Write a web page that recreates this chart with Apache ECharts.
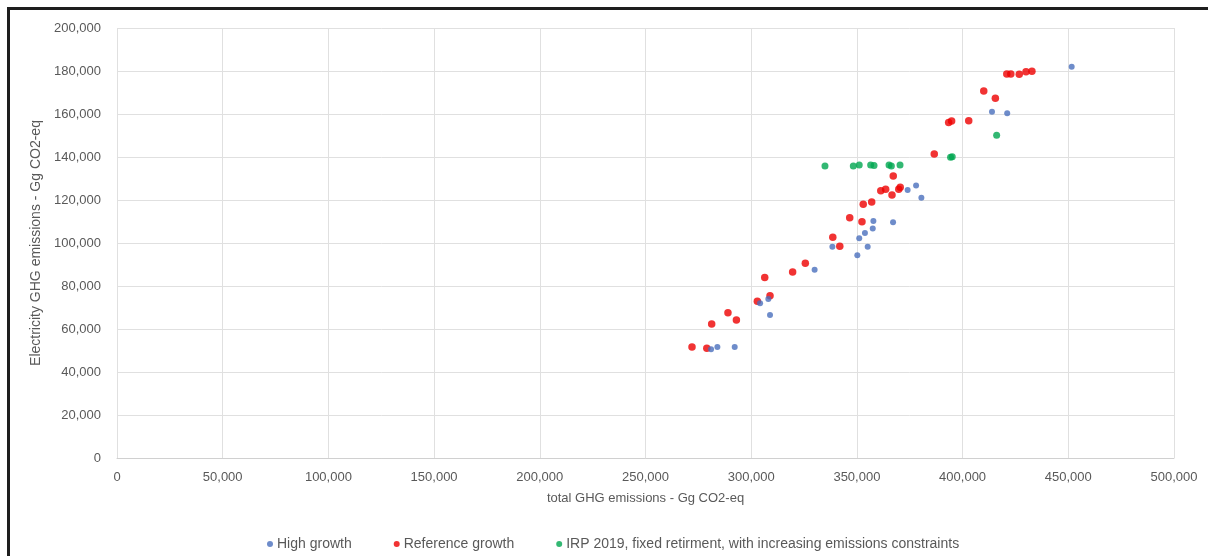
<!DOCTYPE html>
<html>
<head>
<meta charset="utf-8">
<script src="https://cdn.jsdelivr.net/npm/echarts@6/dist/echarts.min.js"></script>
<style>
html,body{margin:0;padding:0;background:#fff;}
#chart{width:1208px;height:556px;}
</style>
</head>
<body>
<div id="chart"></div>
<script>
// ---- data (x: total GHG emissions, y: electricity GHG emissions, Gg CO2-eq) ----
const seriesNames = ['High growth', 'Reference growth', 'IRP 2019, fixed retirment, with increasing emissions constraints'];

const highGrowth = [
  [281000, 50600], [284000, 51600], [292200, 51600], [304200, 72000], [308100, 74000],
  [308900, 66500], [330000, 87600], [338400, 98300], [350200, 94300], [351100, 102200],
  [353800, 104700], [355100, 98300], [357500, 106800], [357800, 110200], [367100, 109600],
  [374000, 124700], [378000, 126800], [380500, 121100], [413900, 161100], [421100, 160300],
  [451600, 182000]
];

const referenceGrowth = [
  [272000, 51600], [279000, 51000], [281300, 62300], [289000, 67600], [293000, 64200],
  [302900, 72900], [308900, 75500], [306400, 84000], [319600, 86500], [325600, 90600],
  [338600, 102700], [341900, 98500], [346600, 111800], [352400, 109900], [353000, 118000],
  [357000, 119100], [361300, 124300], [363600, 125000], [366600, 122300], [367200, 131200],
  [369800, 125000], [370500, 125900], [386600, 141400], [393400, 156100], [394800, 156700],
  [402900, 156900], [410000, 170700], [415500, 167300], [420900, 178600], [422800, 178600],
  [426800, 178500], [430000, 179700], [432800, 179900]
];

const irp2019 = [
  [334900, 135800], [348300, 135800], [351100, 136300], [356500, 136300], [358100, 136000],
  [365200, 136300], [366300, 135800], [370400, 136300], [394300, 139900], [395100, 140100],
  [416100, 150100]
];

const xAxisName = 'total GHG emissions - Gg CO2-eq';
const yAxisName = 'Electricity GHG emissions - Gg CO2-eq';

const chart = echarts.init(document.getElementById('chart'), null, {renderer: 'canvas'});
const fmt = v => v.toLocaleString('en-US');
const font = "'Liberation Sans', Arial, sans-serif";
const txt = '#595959';

chart.setOption({
  animation: false,
  backgroundColor: '#fff',
  graphic: [
    {type: 'line', shape: {x1: 8, y1: 8.5, x2: 1208, y2: 8.5}, style: {stroke: '#1e1e1e', lineWidth: 3}},
    {type: 'line', shape: {x1: 8.5, y1: 7, x2: 8.5, y2: 556}, style: {stroke: '#1e1e1e', lineWidth: 3}}
  ],
  grid: {left: 117, right: 34, top: 28, bottom: 98, containLabel: false},
  legend: {
    left: 262, top: 532,
    itemWidth: 6, itemHeight: 6, itemGap: 42,
    icon: 'circle',
    textStyle: {color: txt, fontSize: 14, fontFamily: font, padding: [0, 0, 0, -1]},
    data: seriesNames
  },
  xAxis: {
    type: 'value', min: 0, max: 500000, interval: 50000,
    name: xAxisName, nameLocation: 'middle', nameGap: 34,
    nameTextStyle: {color: txt, fontSize: 13, fontFamily: font},
    axisLine: {show: true, lineStyle: {color: '#d0d0d0'}},
    axisTick: {show: false},
    axisLabel: {color: txt, fontSize: 13, fontFamily: font, margin: 13, formatter: fmt},
    splitLine: {show: true, lineStyle: {color: '#e0e0e0'}}
  },
  yAxis: {
    type: 'value', min: 0, max: 200000, interval: 20000,
    name: yAxisName, nameLocation: 'middle', nameGap: 73,
    nameTextStyle: {color: txt, fontSize: 14, fontFamily: font},
    axisLine: {show: false},
    axisTick: {show: false},
    axisLabel: {color: txt, fontSize: 13, fontFamily: font, margin: 16, formatter: fmt},
    splitLine: {show: true, lineStyle: {color: '#e0e0e0'}}
  },
  series: [
    {name: seriesNames[0], type: 'scatter', data: highGrowth, symbolSize: 6, itemStyle: {color: '#4a6fbd'}, z: 3},
    {name: seriesNames[1], type: 'scatter', data: referenceGrowth, symbolSize: 7.5, itemStyle: {color: '#ee0000'}, z: 2},
    {name: seriesNames[2], type: 'scatter', data: irp2019, symbolSize: 7, itemStyle: {color: '#00a650'}, z: 4}
  ]
});
</script>
</body>
</html>
